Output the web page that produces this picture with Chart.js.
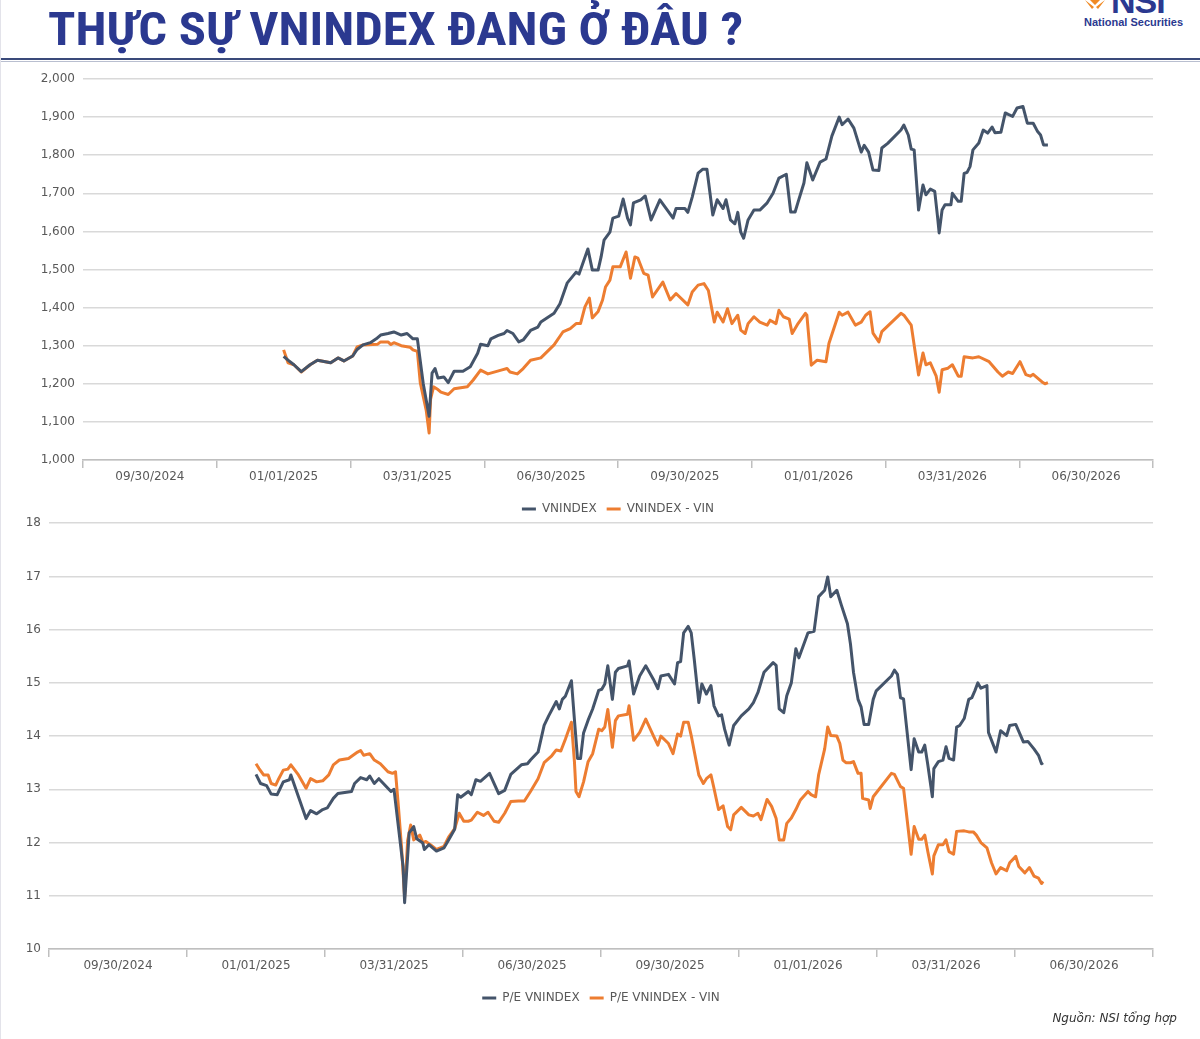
<!DOCTYPE html>
<html>
<head>
<meta charset="utf-8">
<script src="https://cdn.jsdelivr.net/npm/chart.js@4.4.1/dist/chart.umd.min.js"></script>
<style>
  body { margin: 0; background: #fff; }
  #page { position: relative; width: 1200px; height: 1039px; overflow: hidden; background: #fff; border-left: 1px solid #e3e3ea; box-sizing: border-box; }
  #title { position: absolute; left: 47px; top: 6px; margin: 0; font: bold 46px/46px "Liberation Sans Narrow", "Roboto Condensed", "Liberation Sans", sans-serif; color: #2b3990; white-space: nowrap; transform: scaleX(1.1); transform-origin: 0 0; }
  #rule1 { position: absolute; left: 0; top: 58px; width: 1200px; height: 2px; background: #3a4a7a; }
  #rule2 { position: absolute; left: 0; top: 61px; width: 1200px; height: 1px; background: #b9bfd0; }
  #logo-nsi { position: absolute; left: 1110px; top: -16px; font: bold 34px/34px "Liberation Sans", sans-serif; color: #2b3990; letter-spacing: -1px; }
  #logo-sub { position: absolute; left: 1083px; top: 16px; font: bold 11px/12px "Liberation Sans Narrow", "Liberation Sans", sans-serif; color: #2b3990; white-space: nowrap; }
  #logo-mark { position: absolute; left: 1083px; top: 0; }
  canvas { position: absolute; left: 0; }
  #topChart { top: 62px; }
  #bottomChart { top: 508px; }
  #source { position: absolute; right: 23px; top: 1011px; font: italic 12px "DejaVu Sans", sans-serif; color: #333; }
</style>
</head>
<body>
<div id="page">
  <h1 id="title">THỰC SỰ VNINDEX ĐANG Ở ĐÂU ?</h1>
  <svg id="logo-mark" width="22" height="10" viewBox="0 0 22 10">
    <path d="M1 0 L10 7 L8 9 Z M21 0 L12 7 L14 9 Z M6 0 L11 5 L16 0 Z" fill="#f08a24"/>
  </svg>
  <div id="logo-nsi">NSI</div>
  <div id="logo-sub">National Securities</div>
  <div id="rule1"></div>
  <div id="rule2"></div>
  <canvas id="topChart" width="1200" height="465"></canvas>
  <canvas id="bottomChart" width="1200" height="508"></canvas>
  <div id="source">Nguồn: NSI tổng hợp</div>
</div>
<script>
// quarter labels of the x axis (each label sits in the middle of its quarter)
const quarterLabels = ['09/30/2024', '01/01/2025', '03/31/2025', '06/30/2025', '09/30/2025', '01/01/2026', '03/31/2026', '06/30/2026'];
const QUARTER = 91; // days per quarter band, day 0 = 01/01/2025

// VNINDEX (days since 01/01/2025, points)
const vnDays = [0,3,7,12,18,23,32,37,41,47,50,54,59,63,66,71,75,80,84,88,91,95,99,101,103,105,109,112,116,122,127,132,134,139,141,146,150,152,156,160,163,168,173,175,184,188,193,199,201,203,207,210,214,216,218,222,224,228,231,234,236,238,243,246,250,256,265,267,273,275,278,282,285,288,292,295,299,301,304,307,309,311,313,316,320,324,329,333,337,342,345,348,350,354,356,360,365,369,373,378,380,384,388,393,395,398,401,405,407,411,420,422,425,427,429,432,435,437,440,443,445,446,448,450,454,455,459,461,463,465,467,469,473,476,479,482,484,488,491,493,496,499,503,506,510,513,515,517,520];
const vnValues = [1272,1262,1250,1232,1250,1262,1255,1268,1260,1273,1290,1302,1308,1318,1328,1332,1336,1328,1332,1318,1318,1200,1115,1228,1240,1215,1218,1203,1233,1233,1245,1280,1304,1300,1318,1327,1332,1340,1332,1310,1315,1340,1349,1362,1385,1410,1465,1493,1488,1510,1554,1499,1499,1533,1577,1598,1635,1640,1685,1635,1617,1675,1683,1693,1630,1683,1635,1660,1660,1650,1690,1753,1763,1763,1643,1683,1660,1683,1630,1620,1650,1598,1582,1630,1656,1656,1675,1700,1740,1750,1651,1651,1677,1727,1780,1735,1782,1790,1850,1900,1880,1895,1871,1808,1826,1808,1761,1760,1819,1831,1866,1879,1853,1816,1814,1656,1722,1696,1711,1705,1635,1596,1656,1670,1670,1700,1679,1679,1752,1755,1770,1814,1832,1866,1858,1874,1859,1860,1911,1907,1902,1924,1928,1884,1884,1862,1853,1827,1827];

// VNINDEX - VIN
const vinDays = [0,3,7,12,18,23,32,37,41,47,50,54,64,66,71,73,75,80,86,88,91,93,97,99,100,102,105,107,112,116,125,129,134,139,148,152,154,159,163,168,175,184,190,195,199,202,205,208,210,214,217,219,222,224,229,233,236,239,241,245,248,251,258,263,267,275,278,282,286,289,293,295,299,302,305,309,311,314,316,320,324,329,331,335,337,340,344,346,350,355,356,359,363,369,371,378,380,384,389,393,396,399,401,405,407,420,422,427,432,435,437,440,444,446,448,452,455,459,461,463,469,473,480,486,489,493,496,501,505,508,510,513,516,518,520];
const vinValues = [1289,1255,1250,1231,1250,1262,1255,1268,1260,1273,1297,1302,1304,1310,1310,1303,1308,1300,1296,1289,1285,1202,1131,1071,1160,1192,1185,1178,1172,1187,1192,1210,1236,1226,1236,1240,1231,1226,1240,1262,1268,1302,1336,1345,1358,1358,1402,1425,1373,1390,1420,1454,1472,1507,1507,1546,1477,1533,1530,1490,1485,1428,1467,1420,1437,1407,1441,1459,1463,1445,1362,1388,1362,1397,1358,1380,1341,1332,1358,1376,1362,1354,1367,1358,1393,1376,1370,1332,1358,1385,1380,1249,1262,1258,1306,1388,1380,1388,1354,1362,1380,1389,1333,1310,1337,1385,1380,1354,1223,1281,1250,1255,1220,1178,1237,1241,1250,1220,1220,1271,1268,1271,1258,1231,1220,1231,1227,1258,1224,1220,1225,1215,1205,1200,1203];

// P/E VNINDEX
const peDays = [0,3,7,10,14,18,22,23,28,33,36,40,44,47,51,54,63,65,69,73,75,78,81,84,89,91,94,97,98,101,104,106,110,111,114,119,124,127,131,133,135,140,142,145,148,154,160,164,168,175,179,181,186,190,193,198,200,202,204,208,210,212,214,216,219,222,226,228,230,232,235,237,239,245,246,249,253,257,262,265,267,272,276,278,280,282,285,287,289,292,294,297,300,302,305,307,309,312,315,320,325,328,331,335,341,343,345,348,350,353,356,358,364,368,371,375,377,379,383,386,390,392,394,397,399,401,404,407,409,419,421,423,425,427,432,434,437,439,441,443,446,447,450,453,455,457,460,462,464,467,470,472,474,476,478,482,483,488,491,495,497,501,506,509,513,516,518,519];
const peValues = [13.28,13.11,13.07,12.91,12.90,13.14,13.18,13.27,12.86,12.45,12.60,12.54,12.62,12.65,12.83,12.92,12.96,13.11,13.22,13.18,13.25,13.11,13.20,13.11,12.96,13.00,12.27,11.55,10.87,12.18,12.30,12.07,11.99,11.87,11.96,11.84,11.90,12.05,12.25,12.90,12.85,12.96,12.90,13.18,13.15,13.30,12.92,12.98,13.28,13.46,13.48,13.55,13.70,14.20,14.38,14.65,14.51,14.69,14.75,15.04,14.30,13.58,13.58,14.06,14.30,14.51,14.86,14.88,14.98,15.32,14.69,15.20,15.27,15.32,15.41,14.79,15.13,15.32,15.07,14.89,15.13,15.16,14.98,15.38,15.40,15.94,16.06,15.94,15.44,14.63,14.98,14.79,14.95,14.57,14.38,14.40,14.13,13.83,14.20,14.38,14.51,14.63,14.82,15.20,15.38,15.33,14.51,14.44,14.76,15.00,15.64,15.47,15.94,15.97,16.62,16.74,16.99,16.62,16.74,16.46,16.11,15.73,15.20,14.69,14.55,14.22,14.22,14.69,14.85,15.13,15.24,15.16,14.72,14.70,13.37,13.95,13.70,13.70,13.83,13.46,12.86,13.39,13.52,13.55,13.80,13.58,13.55,14.17,14.20,14.33,14.69,14.72,14.85,15.00,14.90,14.95,14.07,13.70,14.10,14.01,14.20,14.22,13.89,13.90,13.76,13.64,13.48,13.50];

// P/E VNINDEX - VIN
const peVinDays = [0,2,5,8,10,13,15,18,21,23,28,33,36,40,44,48,51,55,61,64,67,69,71,75,78,82,87,90,92,94,96,98,100,102,104,108,110,112,115,119,124,127,131,134,137,140,142,146,150,153,157,160,164,168,173,177,181,186,190,195,198,201,204,208,210,211,213,216,219,222,226,228,230,232,235,237,239,245,246,249,253,257,262,265,267,272,275,278,280,282,285,287,292,295,297,300,302,305,308,311,313,315,320,325,328,331,333,337,340,343,345,348,350,353,356,359,364,366,369,371,375,377,379,383,385,387,389,392,394,397,399,400,404,405,407,419,421,425,427,432,434,437,439,441,443,446,447,450,453,455,457,460,462,467,470,473,475,478,482,485,488,491,495,497,501,503,507,510,513,516,518,519];
const peVinValues = [13.48,13.39,13.27,13.27,13.11,13.08,13.20,13.36,13.38,13.46,13.27,13.02,13.20,13.14,13.16,13.27,13.46,13.55,13.58,13.64,13.70,13.73,13.64,13.67,13.55,13.48,13.33,13.30,13.33,12.64,11.90,10.97,12.04,12.33,12.05,12.14,12.00,12.02,11.96,11.87,11.93,12.10,12.26,12.55,12.40,12.40,12.42,12.57,12.51,12.57,12.40,12.38,12.55,12.77,12.78,12.78,12.96,13.20,13.50,13.63,13.74,13.72,13.94,14.26,13.51,12.96,12.86,13.14,13.52,13.67,14.13,14.10,14.17,14.50,13.79,14.29,14.38,14.41,14.57,13.92,14.07,14.32,14.01,13.83,14.00,13.86,13.67,14.04,14.00,14.26,14.26,14.01,13.27,13.11,13.20,13.27,13.02,12.62,12.69,12.30,12.24,12.52,12.66,12.52,12.50,12.55,12.43,12.81,12.68,12.45,12.05,12.05,12.36,12.46,12.62,12.80,12.96,12.90,12.86,13.27,13.76,14.17,14.01,14.00,13.86,13.55,13.50,13.50,13.52,13.30,13.30,12.83,12.80,12.64,12.86,13.30,13.28,13.05,13.02,11.78,12.30,12.06,12.06,12.14,11.83,11.41,11.75,11.96,11.96,12.05,11.83,11.78,12.21,12.22,12.20,12.20,12.14,12.00,11.90,11.62,11.41,11.53,11.47,11.62,11.74,11.55,11.43,11.53,11.37,11.33,11.23,11.27];

const DARK = '#44546a';
const ORANGE = '#ed7d31';
const GRID = '#d9d9d9';
const TEXT = '#595959';
const FONT = 'DejaVu Sans';

function points(days, values) {
  return days.map((d, i) => ({ x: d, y: values[i] }));
}

function lineSet(label, days, values, color) {
  return {
    label: label,
    data: points(days, values),
    borderColor: color,
    backgroundColor: color,
    borderWidth: 3,
    pointRadius: 0,
    tension: 0,
    borderJoinStyle: 'round',
    xAxisID: 'x',
    yAxisID: 'y'
  };
}

function makeChart(id, datasets, yMin, yMax, yStep, yFmt, axisWidth, padTop) {
  const firstCenter = -QUARTER; // 09/30/2024 band centre
  return new Chart(document.getElementById(id), {
    type: 'line',
    data: { datasets: datasets },
    options: {
      responsive: false,
      animation: false,
      events: [],
      layout: { padding: { left: 0, right: 48, top: padTop, bottom: 2 } },
      scales: {
        x: {
          type: 'linear',
          display: false,
          min: firstCenter - QUARTER / 2,
          max: firstCenter + (quarterLabels.length - 0.5) * QUARTER
        },
        xq: {
          type: 'category',
          position: 'bottom',
          labels: quarterLabels,
          offset: true,
          grid: { offset: true, drawOnChartArea: false, drawTicks: true, tickLength: 8, color: '#bfbfbf', lineWidth: 1.5 },
          border: { display: true, color: '#bfbfbf', width: 1.5 },
          ticks: { autoSkip: false, maxRotation: 0, padding: 2, color: TEXT, font: { family: FONT, size: 12 } },
          afterFit: s => { s.height = 33; }
        },
        y: {
          min: yMin,
          max: yMax,
          border: { display: false },
          grid: { color: GRID, lineWidth: 1.5, drawTicks: false },
          ticks: { stepSize: yStep, padding: 8, color: TEXT, font: { family: FONT, size: 12 }, callback: yFmt },
          afterFit: s => { s.width = axisWidth; }
        }
      },
      plugins: {
        tooltip: { enabled: false },
        legend: {
          position: 'bottom',
          fullSize: false,
          labels: {
            boxWidth: 14,
            boxHeight: 3,
            padding: 10,
            color: TEXT,
            font: { family: FONT, size: 12 },
            generateLabels: chart => {
              const items = Chart.defaults.plugins.legend.labels.generateLabels(chart);
              items.forEach(it => { it.lineWidth = 0; });
              return items;
            }
          }
        }
      }
    }
  });
}

makeChart('topChart', [
  lineSet('VNINDEX', vnDays, vnValues, DARK),
  lineSet('VNINDEX - VIN', vinDays, vinValues, ORANGE)
], 1000, 2000, 100, v => v.toLocaleString('en-US'), 82, 17);

makeChart('bottomChart', [
  lineSet('P/E VNINDEX', peDays, peValues, DARK),
  lineSet('P/E VNINDEX - VIN', peVinDays, peVinValues, ORANGE)
], 10, 18, 1, v => v, 48, 11);
</script>
</body>
</html>
